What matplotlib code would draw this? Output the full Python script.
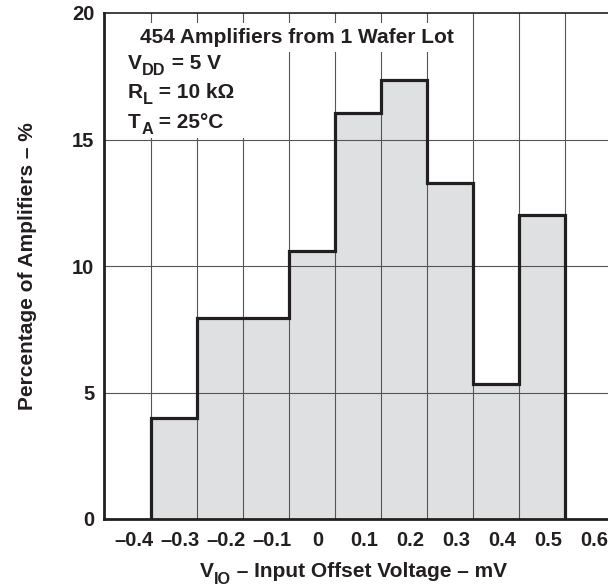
import matplotlib
matplotlib.use('Agg')
import matplotlib.pyplot as plt
from matplotlib.patches import Rectangle

# Histogram data
bin_edges = [-0.363, -0.263, -0.163, -0.063, 0.037, 0.137, 0.237, 0.337, 0.437, 0.537]
percent = [4.0, 7.95, 7.95, 10.6, 16.05, 17.35, 13.3, 5.35, 12.0]

x_ticks = [-0.4, -0.3, -0.2, -0.1, 0, 0.1, 0.2, 0.3, 0.4, 0.5, 0.6]
x_tick_labels = ['–0.4', '–0.3', '–0.2', '–0.1', '0', '0.1', '0.2', '0.3', '0.4', '0.5', '0.6']
y_ticks = [0, 5, 10, 15, 20]

plt.rcParams['font.family'] = ['Liberation Sans', 'DejaVu Sans']
plt.rcParams['font.weight'] = 'bold'

ink = '#231f20'
grid_col = '#555555'
fs = 15

fig = plt.figure(figsize=(6.08, 5.86), dpi=100)
ax = fig.add_axes([104 / 608, 1 - 519 / 586, 504 / 608, 506 / 586])


def sub_text(x, y, main, sub, rest, transform, drop=3.6):
    # main letter, large subscript, then the rest on the main baseline
    t0 = ax.text(x, y, main, transform=transform, ha='left', va='baseline',
                 fontsize=fs, fontweight='bold', color=ink, zorder=4, clip_on=False)
    t1 = ax.annotate(sub, xy=(1, 0), xycoords=t0, xytext=(0.3, -drop),
                     textcoords='offset points', ha='left', va='bottom',
                     fontsize=fs * 0.78, fontweight='bold', color=ink, zorder=4)
    ax.annotate(rest, xy=(1, 0), xycoords=(t1, t0), ha='left', va='bottom',
                fontsize=fs, fontweight='bold', color=ink, zorder=4)


# bars and outline
ax.stairs(percent, bin_edges, fill=True, color='#dfe0e2', zorder=1)
for e in bin_edges:
    ax.axvline(e, color=grid_col, lw=0.8, zorder=1.5)
for yv in y_ticks[1:-1]:
    ax.axhline(yv, color=grid_col, lw=0.8, zorder=1.5)
ax.stairs(percent, bin_edges, baseline=0, fill=False, color=ink, lw=2.3, zorder=2.5)

ax.set_xlim(-0.465, 0.63)
ax.set_ylim(0, 20)
ax.set_xticks(x_ticks)
ax.set_xticklabels(x_tick_labels)
ax.set_yticks(y_ticks)
ax.tick_params(length=0, labelsize=14.5, colors=ink)
ax.tick_params(axis='x', pad=9)
ax.tick_params(axis='y', pad=7)

for side in ['left', 'bottom']:
    ax.spines[side].set_linewidth(2)
    ax.spines[side].set_color(ink)
ax.spines['top'].set_linewidth(1.2)
ax.spines['top'].set_color(ink)
ax.spines['right'].set_visible(False)

ax.set_ylabel('Percentage of Amplifiers – %', fontsize=fs, fontweight='bold',
              color=ink, labelpad=25)
sub_text(200 / 608, 1 - 577 / 586, 'V', 'IO', ' – Input Offset Voltage – mV',
         fig.transFigure, drop=4.3)

# white background behind the annotation block
ax.add_patch(Rectangle((-0.43, 15.06), 0.347, 3.4, facecolor='white',
                       edgecolor='none', zorder=3))
ax.text(-0.045, 18.81, '454 Amplifiers from 1 Wafer Lot', ha='center', va='baseline',
        fontsize=fs, fontweight='bold', color=ink, zorder=4,
        bbox=dict(facecolor='white', edgecolor='none', boxstyle='square,pad=0.25'))
sub_text(-0.413, 17.77, 'V', 'DD', ' = 5 V', ax.transData)
sub_text(-0.413, 16.63, 'R', 'L', ' = 10 kΩ', ax.transData)
sub_text(-0.413, 15.47, 'T', 'A', ' = 25°C', ax.transData)

fig.savefig('out.png', dpi=100)
